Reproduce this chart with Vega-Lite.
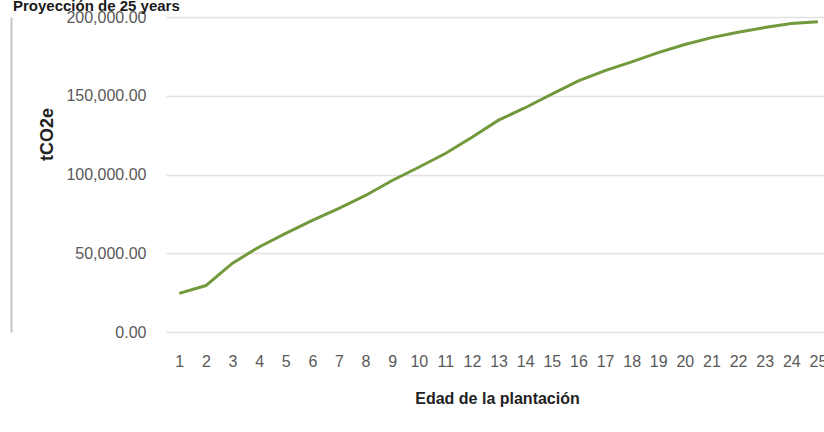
{
  "$schema": "https://vega.github.io/schema/vega-lite/v6.json",
  "width": 658,
  "height": 315,
  "autosize": {"type": "none"},
  "padding": {"left": 166, "top": 17, "right": 0, "bottom": 100},
  "background": "white",
  "config": {
    "view": {"stroke": null},
    "font": "Liberation Sans"
  },
  "title": {
    "text": "Proyección de 25 years",
    "anchor": "start",
    "frame": "group",
    "orient": "top",
    "dx": -153,
    "dy": 21,
    "offset": 4,
    "fontSize": 15,
    "fontWeight": "bold",
    "color": "#1a1a1a",
    "baseline": "alphabetic"
  },
  "data": {
    "values": [
      {"edad": 1, "tco2e": 24500},
      {"edad": 2, "tco2e": 29500},
      {"edad": 3, "tco2e": 43700},
      {"edad": 4, "tco2e": 54000},
      {"edad": 5, "tco2e": 62600},
      {"edad": 6, "tco2e": 70900},
      {"edad": 7, "tco2e": 78500},
      {"edad": 8, "tco2e": 86700},
      {"edad": 9, "tco2e": 96200},
      {"edad": 10, "tco2e": 104600},
      {"edad": 11, "tco2e": 113300},
      {"edad": 12, "tco2e": 123600},
      {"edad": 13, "tco2e": 134500},
      {"edad": 14, "tco2e": 142400},
      {"edad": 15, "tco2e": 151000},
      {"edad": 16, "tco2e": 159500},
      {"edad": 17, "tco2e": 166000},
      {"edad": 18, "tco2e": 171500},
      {"edad": 19, "tco2e": 177400},
      {"edad": 20, "tco2e": 182500},
      {"edad": 21, "tco2e": 186900},
      {"edad": 22, "tco2e": 190300},
      {"edad": 23, "tco2e": 193300},
      {"edad": 24, "tco2e": 195800},
      {"edad": 25, "tco2e": 197000}
    ]
  },
  "mark": {"type": "line", "color": "#72993c", "strokeWidth": 3, "clip": false},
  "encoding": {
    "x": {
      "field": "edad",
      "type": "quantitative",
      "scale": {"domain": [0.5, 25.23], "nice": false, "zero": false},
      "axis": {
        "title": "Edad de la plantación",
        "values": [1,2,3,4,5,6,7,8,9,10,11,12,13,14,15,16,17,18,19,20,21,22,23,24,25],
        "format": "d",
        "grid": false,
        "domain": false,
        "ticks": false,
        "tickSize": 0,
        "labelPadding": 21,
        "labelFontSize": 16,
        "labelColor": "#595959",
        "labelFlush": false,
        "labelOverlap": false,
        "titleFontSize": 16,
        "titleFontWeight": "bold",
        "titleColor": "#222222",
        "titleX": 331,
        "titleY": 66,
        "titleBaseline": "middle"
      }
    },
    "y": {
      "field": "tco2e",
      "type": "quantitative",
      "scale": {"domain": [0, 200000], "nice": false},
      "axis": {
        "title": "tCO2e",
        "values": [0, 50000, 100000, 150000, 200000],
        "format": ",.2f",
        "offset": 155,
        "domain": true,
        "domainColor": "#c6c6c6",
        "domainWidth": 2,
        "ticks": false,
        "tickSize": 0,
        "labelAlign": "right",
        "labelBaseline": "middle",
        "labelPadding": -135,
        "labelFontSize": 16,
        "labelColor": "#595959",
        "grid": true,
        "gridColor": "#e2e2e2",
        "gridWidth": 1.5,
        "titleFontSize": 18,
        "titleFontWeight": "bold",
        "titleColor": "#222222",
        "titleAngle": -90,
        "titleX": 36,
        "titleY": 117,
        "titleAlign": "center",
        "titleBaseline": "middle"
      }
    }
  }
}
